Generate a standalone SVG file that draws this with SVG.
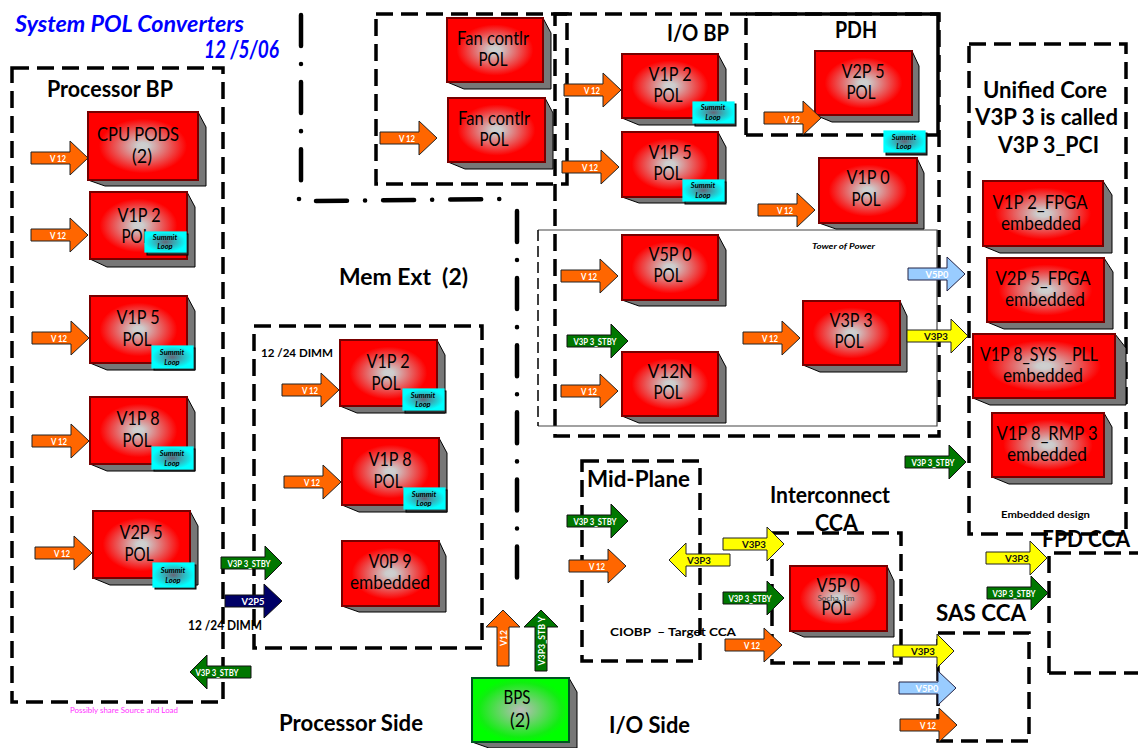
<svg xmlns="http://www.w3.org/2000/svg" width="1138" height="748" viewBox="0 0 1138 748">
<style>
text{font-family:"Lato","Liberation Sans",sans-serif}
.bg{fill:#fff}
.d{fill:none;stroke:#000;stroke-width:3.5;stroke-dasharray:17 8}
.dd{fill:none;stroke:#000;stroke-width:4.5;stroke-dasharray:31 18 .1 18;stroke-linecap:round}
.s{fill:none;stroke:#000;stroke-width:3.5}
.side{fill:#777;stroke:#000;stroke-width:1}
.f{fill:url(#rg);stroke:#700;stroke-width:2}
.g{fill:url(#gg);stroke:#052;stroke-width:2}
.t{font-size:20px;font-weight:400;text-anchor:middle;fill:#000}
.h{font-weight:700;font-size:22px;fill:#000}
.o{fill:#f60;stroke:#222;stroke-width:1}
.gr{fill:#070;stroke:#111;stroke-width:1}
.y{fill:#ff0;stroke:#222;stroke-width:1}
.n{fill:#006;stroke:#111;stroke-width:1}
.b{fill:#9cf;stroke:#224;stroke-width:1}
.l{font-size:10px;font-weight:700;fill:#fff;text-anchor:middle}
.ly{font-size:10px;font-weight:700;fill:#111;text-anchor:middle}
.sl{fill:url(#cg);stroke:#0ff;stroke-width:1.2}
.ss{fill:#333;stroke:#000;stroke-width:1}
.st{font-size:7.5px;font-weight:700;font-style:italic;text-anchor:middle;fill:#000}
</style>
<defs>
<radialGradient id="rg"><stop offset="0" stop-color="#d0d0d0"/><stop offset="0.1" stop-color="#ccc"/><stop offset="0.8" stop-color="#f00"/><stop offset="1" stop-color="#f00"/></radialGradient>
<radialGradient id="gg"><stop offset="0" stop-color="#bbb"/><stop offset="0.85" stop-color="#1e1"/><stop offset="1" stop-color="#0f0"/></radialGradient>
<radialGradient id="cg"><stop offset="0" stop-color="#667"/><stop offset="1" stop-color="#0ff"/></radialGradient>
<path id="ar" d="M0-6H39V-17L57 0L39 17V6H0Z"/>
<path id="al" d="M0-6H44V-17L61 0L44 17V6H0Z"/>
<path id="ll" d="M61-6H17V-17L0 0L17 17V6H61Z"/>
<path id="up" d="M-6 56V17H-17L0 0L17 17H6V56Z"/>
<path id="upl" d="M-6 61V17H-17L0 0L17 17H6V61Z"/>
</defs>
<rect class="bg" width="1138" height="748"/>

<g id="frames">
<rect class="d" x="12" y="68" width="211" height="634"/>
<rect class="d" x="254" y="326" width="228" height="322"/>
<rect class="d" x="376" y="14" width="191" height="170"/>
<rect class="d" x="555" y="14" width="384" height="422"/>
<path class="d" d="M746 135V14"/><path class="s" d="M746 14H938V135"/><path class="d" d="M938 135H746"/>
<path d="M538 230H937V426H538" fill="none" stroke="#444" stroke-width="1.2"/>
<path d="M538 230V426" fill="none" stroke="#000" stroke-width="1.5" stroke-dasharray="11 5"/>
<rect class="d" x="969" y="44" width="157" height="490"/>
<rect class="d" x="582" y="461" width="118" height="200"/>
<rect class="d" x="772" y="533" width="129" height="130"/>
<rect class="d" x="938" y="633" width="91" height="108"/>
<path class="d" d="M1049 673V553H1138M1049 673H1138"/>
<path class="dd" d="M301 15V198"/>
<path class="dd" d="M316 201L500 199"/>
<path class="dd" d="M517 211V578"/>
<circle cx="299" cy="199" r="2.3"/>
</g>

<g id="labels">
<text x="15" y="32" font-size="22" font-weight="700" font-style="italic" fill="#00f" textLength="229" lengthAdjust="spacingAndGlyphs">System POL Converters</text>
<text x="204" y="58" font-size="24" font-weight="700" font-style="italic" fill="#00f" textLength="75" lengthAdjust="spacingAndGlyphs">12 /5/06</text>
<text class="h" x="47" y="97" textLength="126" lengthAdjust="spacingAndGlyphs">Processor BP</text>
<text class="h" x="339" y="285" textLength="129" lengthAdjust="spacingAndGlyphs" xml:space="preserve">Mem Ext  (2)</text>
<text x="261" y="357" font-size="12" font-weight="700" textLength="72" lengthAdjust="spacingAndGlyphs">12 /24 DIMM</text>
<text x="188" y="630" font-size="14" font-weight="700" textLength="74" lengthAdjust="spacingAndGlyphs">12 /24 DIMM</text>
<text class="h" x="279" y="731" textLength="144" lengthAdjust="spacingAndGlyphs">Processor Side</text>
<text class="h" x="609" y="733" textLength="81" lengthAdjust="spacingAndGlyphs">I/O Side</text>
<text class="h" x="667" y="41" textLength="62" lengthAdjust="spacingAndGlyphs">I/O BP</text>
<text class="h" x="835" y="38" textLength="42" lengthAdjust="spacingAndGlyphs">PDH</text>
<text class="h" x="983" y="98" textLength="124" lengthAdjust="spacingAndGlyphs">Unified Core</text>
<text class="h" x="975" y="125" textLength="143" lengthAdjust="spacingAndGlyphs">V3P 3 is called</text>
<text class="h" x="998" y="153" textLength="101" lengthAdjust="spacingAndGlyphs">V3P 3_PCI</text>
<text class="h" x="587" y="487" textLength="103" lengthAdjust="spacingAndGlyphs">Mid-Plane</text>
<text class="h" x="770" y="503" textLength="120" lengthAdjust="spacingAndGlyphs">Interconnect</text>
<text class="h" x="815" y="531" textLength="43" lengthAdjust="spacingAndGlyphs">CCA</text>
<text class="h" x="936" y="621" textLength="90" lengthAdjust="spacingAndGlyphs">SAS CCA</text>
<text class="h" x="1042" y="547" textLength="88" lengthAdjust="spacingAndGlyphs">FPD CCA</text>
<text x="610" y="636" font-size="12" font-weight="700" xml:space="preserve" textLength="126" lengthAdjust="spacingAndGlyphs">CIOBP  – Target CCA</text>
<text x="1001" y="518" font-size="10" font-weight="700" textLength="89" lengthAdjust="spacingAndGlyphs">Embedded design</text>
<text x="812" y="249" font-size="8" font-weight="700" font-style="italic" textLength="63" lengthAdjust="spacingAndGlyphs">Tower of Power</text>
<text x="70" y="713" font-size="7.5" fill="#f3f" textLength="108" lengthAdjust="spacingAndGlyphs">Possibly share Source and Load</text>
</g>

<g id="n-cpu"><path class="side" d="M198 112L206 127V186H105L88 180Z"/><rect class="f" x="88" y="112" width="110" height="68"/><text class="t" x="138" y="141" textLength="82" lengthAdjust="spacingAndGlyphs">CPU PODS</text><text class="t" x="142" y="163" textLength="20" lengthAdjust="spacingAndGlyphs">(2)</text></g>
<g id="n-p-v1p2"><path class="side" d="M187 192L195 207V267H107L90 259Z"/><rect class="f" x="90" y="192" width="97" height="67"/><text class="t" x="139" y="222" textLength="43" lengthAdjust="spacingAndGlyphs">V1P 2</text><text class="t" x="136" y="243" textLength="29" lengthAdjust="spacingAndGlyphs">POL</text></g>
<g id="n-p-v1p5"><path class="side" d="M187 296L195 311V370H107L90 363Z"/><rect class="f" x="90" y="296" width="97" height="67"/><text class="t" x="138" y="324" textLength="43" lengthAdjust="spacingAndGlyphs">V1P 5</text><text class="t" x="137" y="346" textLength="29" lengthAdjust="spacingAndGlyphs">POL</text></g>
<g id="n-p-v1p8"><path class="side" d="M187 397L195 412V471H107L90 464Z"/><rect class="f" x="90" y="397" width="97" height="67"/><text class="t" x="138" y="425" textLength="43" lengthAdjust="spacingAndGlyphs">V1P 8</text><text class="t" x="137" y="447" textLength="29" lengthAdjust="spacingAndGlyphs">POL</text></g>
<g id="n-p-v2p5"><path class="side" d="M190 511L198 526V585H110L93 578Z"/><rect class="f" x="93" y="511" width="97" height="67"/><text class="t" x="141" y="539" textLength="43" lengthAdjust="spacingAndGlyphs">V2P 5</text><text class="t" x="139" y="561" textLength="29" lengthAdjust="spacingAndGlyphs">POL</text></g>

<g id="n-m-v1p2"><path class="side" d="M437 340L445 355V413H357L340 406Z"/><rect class="f" x="340" y="340" width="97" height="66"/><text class="t" x="388" y="368" textLength="43" lengthAdjust="spacingAndGlyphs">V1P 2</text><text class="t" x="386" y="390" textLength="29" lengthAdjust="spacingAndGlyphs">POL</text></g>
<g id="n-m-v1p8"><path class="side" d="M439 438L447 453V512H359L342 505Z"/><rect class="f" x="342" y="438" width="97" height="67"/><text class="t" x="390" y="466" textLength="43" lengthAdjust="spacingAndGlyphs">V1P 8</text><text class="t" x="388" y="488" textLength="29" lengthAdjust="spacingAndGlyphs">POL</text></g>
<g id="n-m-v0p9"><path class="side" d="M439 541L446 556V612H359L342 606Z"/><rect class="f" x="342" y="541" width="97" height="65"/><text class="t" x="390" y="568" textLength="43" lengthAdjust="spacingAndGlyphs">V0P 9</text><text class="t" x="390" y="589" textLength="80" lengthAdjust="spacingAndGlyphs">embedded</text></g>

<g id="n-fan1"><path class="side" d="M543 18L551 33V89H464L447 82Z"/><rect class="f" x="447" y="18" width="96" height="64"/><text class="t" x="493" y="45" textLength="72" lengthAdjust="spacingAndGlyphs">Fan contlr</text><text class="t" x="493" y="66" textLength="29" lengthAdjust="spacingAndGlyphs">POL</text></g>
<g id="n-fan2"><path class="side" d="M545 98L553 113V169H465L448 162Z"/><rect class="f" x="448" y="98" width="97" height="64"/><text class="t" x="494" y="125" textLength="72" lengthAdjust="spacingAndGlyphs">Fan contlr</text><text class="t" x="494" y="146" textLength="29" lengthAdjust="spacingAndGlyphs">POL</text></g>

<g id="n-io-v1p2"><path class="side" d="M718 54L726 69V125H639L622 118Z"/><rect class="f" x="622" y="54" width="96" height="64"/><text class="t" x="670" y="81" textLength="43" lengthAdjust="spacingAndGlyphs">V1P 2</text><text class="t" x="668" y="102" textLength="29" lengthAdjust="spacingAndGlyphs">POL</text></g>
<g id="n-io-v1p5"><path class="side" d="M718 132L726 147V203H639L622 197Z"/><rect class="f" x="622" y="132" width="96" height="65"/><text class="t" x="670" y="159" textLength="43" lengthAdjust="spacingAndGlyphs">V1P 5</text><text class="t" x="668" y="180" textLength="29" lengthAdjust="spacingAndGlyphs">POL</text></g>
<g id="n-pdh-v2p5"><path class="side" d="M912 51L919 66V122H832L815 115Z"/><rect class="f" x="815" y="51" width="97" height="64"/><text class="t" x="863" y="78" textLength="43" lengthAdjust="spacingAndGlyphs">V2P 5</text><text class="t" x="861" y="99" textLength="29" lengthAdjust="spacingAndGlyphs">POL</text></g>
<g id="n-io-v1p0"><path class="side" d="M917 158L924 173V229H836L819 223Z"/><rect class="f" x="819" y="158" width="98" height="65"/><text class="t" x="868" y="184" textLength="43" lengthAdjust="spacingAndGlyphs">V1P 0</text><text class="t" x="866" y="206" textLength="29" lengthAdjust="spacingAndGlyphs">POL</text></g>
<g id="n-io-v5p0"><path class="side" d="M718 235L726 250V306H639L622 300Z"/><rect class="f" x="622" y="235" width="96" height="65"/><text class="t" x="670" y="261" textLength="43" lengthAdjust="spacingAndGlyphs">V5P 0</text><text class="t" x="668" y="282" textLength="29" lengthAdjust="spacingAndGlyphs">POL</text></g>
<g id="n-io-v12n"><path class="side" d="M718 352L726 367V423H639L622 416Z"/><rect class="f" x="622" y="352" width="96" height="64"/><text class="t" x="670" y="378" textLength="45" lengthAdjust="spacingAndGlyphs">V12N</text><text class="t" x="668" y="399" textLength="29" lengthAdjust="spacingAndGlyphs">POL</text></g>
<g id="n-io-v3p3"><path class="side" d="M900 301L907 316V372H820L803 365Z"/><rect class="f" x="803" y="301" width="97" height="64"/><text class="t" x="851" y="327" textLength="43" lengthAdjust="spacingAndGlyphs">V3P 3</text><text class="t" x="849" y="348" textLength="29" lengthAdjust="spacingAndGlyphs">POL</text></g>

<g id="n-u1"><path class="side" d="M1103 181L1112 195V253H1000L983 246Z"/><rect class="f" x="983" y="181" width="120" height="65"/><text class="t" x="1040" y="209" textLength="95" lengthAdjust="spacingAndGlyphs">V1P 2_FPGA</text><text class="t" x="1041" y="230" textLength="80" lengthAdjust="spacingAndGlyphs">embedded</text></g>
<g id="n-u2"><path class="side" d="M1104 258L1113 272V329H1004L987 322Z"/><rect class="f" x="987" y="258" width="117" height="64"/><text class="t" x="1043" y="285" textLength="95" lengthAdjust="spacingAndGlyphs">V2P 5_FPGA</text><text class="t" x="1045" y="306" textLength="80" lengthAdjust="spacingAndGlyphs">embedded</text></g>
<g id="n-u3"><path class="side" d="M1115 334L1126 348V405H990L973 398Z"/><rect class="f" x="973" y="334" width="142" height="64"/><text class="t" x="1039" y="361" textLength="118" lengthAdjust="spacingAndGlyphs" xml:space="preserve">V1P 8_SYS  _PLL</text><text class="t" x="1043" y="382" textLength="80" lengthAdjust="spacingAndGlyphs">embedded</text></g>
<g id="n-u4"><path class="side" d="M1104 413L1112 427V484H1009L992 477Z"/><rect class="f" x="992" y="413" width="112" height="64"/><text class="t" x="1047" y="440" textLength="101" lengthAdjust="spacingAndGlyphs">V1P 8_RMP 3</text><text class="t" x="1047" y="461" textLength="80" lengthAdjust="spacingAndGlyphs">embedded</text></g>

<g id="n-cca-v5p0"><path class="side" d="M887 566L894 581V637H804L790 631Z"/><rect class="f" x="790" y="566" width="97" height="65"/><text class="t" x="838" y="592" textLength="43" lengthAdjust="spacingAndGlyphs">V5P 0</text><text class="t" x="836" y="615" textLength="29" lengthAdjust="spacingAndGlyphs">POL</text><text x="836" y="601" font-size="8" text-anchor="middle" fill="#444" textLength="37" lengthAdjust="spacingAndGlyphs">Socha, Jim</text></g>
<g id="n-bps"><path class="side" d="M569 678L577 692V748H489L472 742Z"/><rect class="g" x="472" y="678" width="97" height="64"/><text class="t" x="517" y="704" textLength="27" lengthAdjust="spacingAndGlyphs">BPS</text><text class="t" x="520" y="727" textLength="20" lengthAdjust="spacingAndGlyphs">(2)</text></g>

<g id="summits">
<g><rect class="ss" x="147" y="234" width="41" height="21"/><rect class="sl" x="145" y="232" width="41" height="20"/><text class="st" x="165" y="240">Summit</text><text class="st" x="165" y="249">Loop</text></g>
<g><rect class="ss" x="154" y="348" width="41" height="22"/><rect class="sl" x="152" y="346" width="41" height="22"/><text class="st" x="172" y="355">Summit</text><text class="st" x="172" y="365">Loop</text></g>
<g><rect class="ss" x="154" y="449" width="41" height="22"/><rect class="sl" x="152" y="447" width="41" height="22"/><text class="st" x="172" y="456">Summit</text><text class="st" x="172" y="466">Loop</text></g>
<g><rect class="ss" x="155" y="565" width="41" height="24"/><rect class="sl" x="153" y="563" width="41" height="24"/><text class="st" x="173" y="573">Summit</text><text class="st" x="173" y="583">Loop</text></g>
<g><rect class="ss" x="405" y="391" width="41" height="22"/><rect class="sl" x="403" y="389" width="41" height="21"/><text class="st" x="423" y="398">Summit</text><text class="st" x="423" y="407">Loop</text></g>
<g><rect class="ss" x="406" y="490" width="41" height="22"/><rect class="sl" x="404" y="488" width="41" height="21"/><text class="st" x="424" y="497">Summit</text><text class="st" x="424" y="506">Loop</text></g>
<g><rect class="ss" x="695" y="104" width="41" height="22"/><rect class="sl" x="693" y="102" width="41" height="21"/><text class="st" x="713" y="110">Summit</text><text class="st" x="713" y="120">Loop</text></g>
<g><rect class="ss" x="685" y="182" width="41" height="22"/><rect class="sl" x="683" y="180" width="41" height="21"/><text class="st" x="703" y="188">Summit</text><text class="st" x="703" y="198">Loop</text></g>
<g><rect class="ss" x="886" y="133" width="41" height="22"/><rect class="sl" x="884" y="131" width="41" height="21"/><text class="st" x="904" y="140">Summit</text><text class="st" x="904" y="149">Loop</text></g>
</g>

<g id="connectors">
<use href="#ar" class="o" x="31" y="158"/><text class="l" x="58" y="162" textLength="16" lengthAdjust="spacingAndGlyphs">V 12</text>
<use href="#ar" class="o" x="31" y="235"/><text class="l" x="58" y="239" textLength="16" lengthAdjust="spacingAndGlyphs">V 12</text>
<use href="#ar" class="o" x="32" y="338"/><text class="l" x="59" y="342" textLength="16" lengthAdjust="spacingAndGlyphs">V 12</text>
<use href="#ar" class="o" x="32" y="441"/><text class="l" x="59" y="445" textLength="16" lengthAdjust="spacingAndGlyphs">V 12</text>
<use href="#ar" class="o" x="35" y="553"/><text class="l" x="62" y="557" textLength="16" lengthAdjust="spacingAndGlyphs">V 12</text>
<use href="#ar" class="o" x="282" y="390"/><text class="l" x="310" y="394" textLength="16" lengthAdjust="spacingAndGlyphs">V 12</text>
<use href="#ar" class="o" x="284" y="482"/><text class="l" x="312" y="486" textLength="16" lengthAdjust="spacingAndGlyphs">V 12</text>
<use href="#ar" class="o" x="380" y="138"/><text class="l" x="407" y="142" textLength="16" lengthAdjust="spacingAndGlyphs">V 12</text>
<use href="#ar" class="o" x="564" y="90"/><text class="l" x="592" y="94" textLength="16" lengthAdjust="spacingAndGlyphs">V 12</text>
<use href="#ar" class="o" x="562" y="167"/><text class="l" x="590" y="171" textLength="16" lengthAdjust="spacingAndGlyphs">V 12</text>
<use href="#ar" class="o" x="764" y="118"/><text class="l" x="792" y="123" textLength="16" lengthAdjust="spacingAndGlyphs">V 12</text>
<use href="#ar" class="o" x="758" y="210"/><text class="l" x="785" y="214" textLength="16" lengthAdjust="spacingAndGlyphs">V 12</text>
<use href="#ar" class="o" x="561" y="276"/><text class="l" x="589" y="280" textLength="16" lengthAdjust="spacingAndGlyphs">V 12</text>
<use href="#ar" class="o" x="743" y="338"/><text class="l" x="770" y="342" textLength="16" lengthAdjust="spacingAndGlyphs">V 12</text>
<use href="#ar" class="o" x="561" y="391"/><text class="l" x="589" y="395" textLength="16" lengthAdjust="spacingAndGlyphs">V 12</text>
<use href="#ar" class="o" x="569" y="566"/><text class="l" x="597" y="570" textLength="16" lengthAdjust="spacingAndGlyphs">V 12</text>
<use href="#ar" class="o" x="725" y="645"/><text class="l" x="752" y="649" textLength="16" lengthAdjust="spacingAndGlyphs">V 12</text>
<use href="#ar" class="o" x="900" y="725"/><text class="l" x="928" y="729" textLength="16" lengthAdjust="spacingAndGlyphs">V 12</text>
<use href="#up" class="o" x="503" y="610"/><text class="l" transform="translate(507 638) rotate(-90)" textLength="16" lengthAdjust="spacingAndGlyphs">V12</text>

<use href="#al" class="gr" x="221" y="563"/><text class="l" x="249" y="567" textLength="43" lengthAdjust="spacingAndGlyphs">V3P 3_STBY</text>
<use href="#ll" class="gr" x="190" y="672"/><text class="l" x="217" y="676" textLength="43" lengthAdjust="spacingAndGlyphs">V3P 3_STBY</text>
<use href="#al" class="gr" x="567" y="341"/><text class="l" x="595" y="345" textLength="43" lengthAdjust="spacingAndGlyphs">V3P 3_STBY</text>
<use href="#al" class="gr" x="905" y="462"/><text class="l" x="933" y="466" textLength="43" lengthAdjust="spacingAndGlyphs">V3P 3_STBY</text>
<use href="#al" class="gr" x="567" y="521"/><text class="l" x="595" y="525" textLength="43" lengthAdjust="spacingAndGlyphs">V3P 3_STBY</text>
<use href="#al" class="gr" x="723" y="598"/><text class="l" x="750" y="602" textLength="43" lengthAdjust="spacingAndGlyphs">V3P 3_STBY</text>
<use href="#al" class="gr" x="987" y="593"/><text class="l" x="1014" y="597" textLength="43" lengthAdjust="spacingAndGlyphs">V3P 3_STBY</text>
<use href="#upl" class="gr" x="541" y="610"/><text class="l" transform="translate(545 641) rotate(-90)" textLength="49" lengthAdjust="spacingAndGlyphs">V3P3_STB Y</text>

<use href="#ar" class="n" x="225" y="601"/><text class="l" x="253" y="605" textLength="23" lengthAdjust="spacingAndGlyphs">V2P5</text>

<use href="#al" class="y" x="907" y="336"/><text class="ly" x="936" y="340" textLength="24" lengthAdjust="spacingAndGlyphs">V3P3</text>
<use href="#ll" class="y" x="669" y="560"/><text class="ly" x="699" y="564" textLength="24" lengthAdjust="spacingAndGlyphs">V3P3</text>
<use href="#al" class="y" x="723" y="544"/><text class="ly" x="754" y="548" textLength="24" lengthAdjust="spacingAndGlyphs">V3P3</text>
<use href="#al" class="y" x="893" y="651"/><text class="ly" x="923" y="655" textLength="24" lengthAdjust="spacingAndGlyphs">V3P3</text>
<use href="#al" class="y" x="986" y="558"/><text class="ly" x="1017" y="562" textLength="24" lengthAdjust="spacingAndGlyphs">V3P3</text>

<use href="#ar" class="b" x="908" y="274"/><text class="l" x="937" y="278" textLength="23" lengthAdjust="spacingAndGlyphs">V5P0</text>
<use href="#ar" class="b" x="899" y="688"/><text class="l" x="927" y="692" textLength="23" lengthAdjust="spacingAndGlyphs">V5P0</text>
</g>
</svg>
